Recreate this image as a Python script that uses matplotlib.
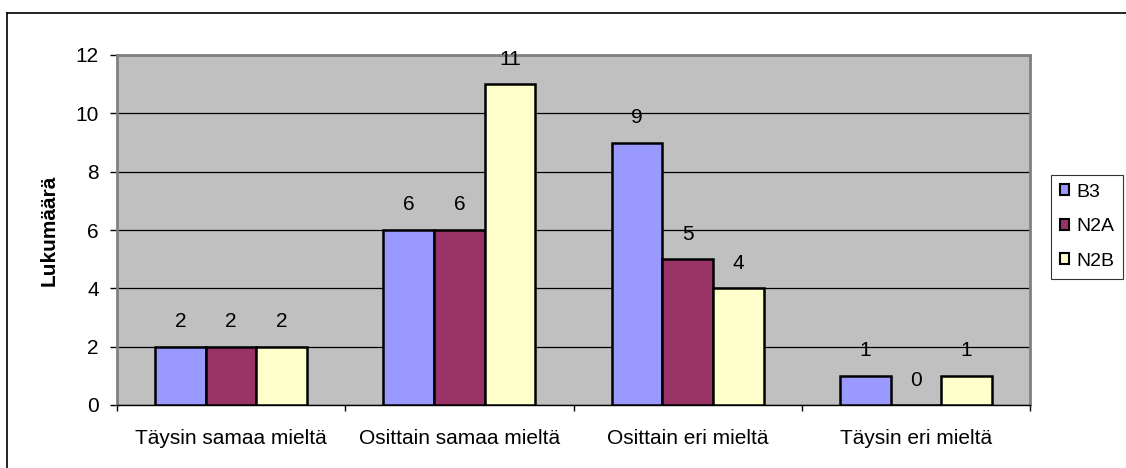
import numpy as np
import matplotlib
matplotlib.use("Agg")
import matplotlib.pyplot as plt
from matplotlib.lines import Line2D

plt.rcParams['font.family'] = ['Liberation Sans', 'DejaVu Sans']

# vastausten jakauma ryhmittäin
kategoriat = ['Täysin samaa mieltä', 'Osittain samaa mieltä', 'Osittain eri mieltä', 'Täysin eri mieltä']
ryhmat = ['B3', 'N2A', 'N2B']
b3 = [2, 6, 9, 1]
n2a = [2, 6, 5, 0]
n2b = [2, 11, 4, 1]
yticks = [0, 2, 4, 6, 8, 10, 12]

varit = ['#9999FF', '#993366', '#FFFFCC']
fs = 15

fig = plt.figure(figsize=(11.26, 4.68), dpi=100)
ax = fig.add_axes([117 / 1126, 1 - 405 / 468, (1030 - 117) / 1126, (405 - 55) / 468])
ax.set_facecolor('#C0C0C0')

x = np.arange(len(kategoriat))
w = 1 / 4.5  # gap width 150 %

for i, (arvot, nimi) in enumerate(zip([b3, n2a, n2b], ryhmat)):
    pos = x + (i - 1) * w
    ax.bar(pos, arvot, width=w, color=varit[i], edgecolor='black', linewidth=1.8,
           label=nimi, zorder=3)
    for px, v in zip(pos, arvot):
        ax.annotate(str(v), (px, v), xytext=(0, 18), textcoords='offset points',
                    ha='center', va='center', fontsize=fs, zorder=4)

ax.set_xlim(-0.5, 3.5)
ax.set_ylim(0, 12)
ax.set_yticks(yticks)
ax.set_yticklabels([str(t) for t in yticks], fontsize=fs)
ax.yaxis.grid(True, color='black', linewidth=0.9, zorder=1)
ax.set_axisbelow(True)

ax.set_xticks(np.arange(-0.5, 4, 1))
ax.set_xticklabels([])
ax.set_xticks(x, minor=True)
ax.set_xticklabels(kategoriat, minor=True, fontsize=fs)
ax.tick_params(axis='x', which='minor', length=0, pad=17)
ax.tick_params(axis='x', which='major', length=4.5, width=1, direction='out')
ax.tick_params(axis='y', length=5, width=1, direction='out', pad=8)

ax.set_ylabel('Lukumäärä', fontsize=fs, fontweight='bold', labelpad=12)

for s in ['top', 'right', 'left']:
    ax.spines[s].set_color('#808080')
    ax.spines[s].set_linewidth(2)
ax.spines['bottom'].set_color('black')
ax.spines['bottom'].set_linewidth(1)

leg = ax.legend(loc='upper left', bbox_to_anchor=(1051 / 1126, 1 - 175 / 468),
                bbox_transform=fig.transFigure, fontsize=14, frameon=True,
                fancybox=False, handlelength=0.5, handleheight=0.5,
                handletextpad=0.35, borderpad=0.45, labelspacing=0.9,
                borderaxespad=0)
leg.get_frame().set_edgecolor('black')
leg.get_frame().set_linewidth(0.8)
for h in leg.legend_handles:
    h.set_linewidth(1.5)

# kaavion reunaviivat
fig.add_artist(Line2D([7 / 1126, 1], [1 - 13 / 468] * 2, color='black', linewidth=1.2,
                      transform=fig.transFigure))
fig.add_artist(Line2D([7 / 1126] * 2, [0, 1 - 13 / 468], color='black', linewidth=1.2,
                      transform=fig.transFigure))

fig.savefig('out.png', dpi=100)
